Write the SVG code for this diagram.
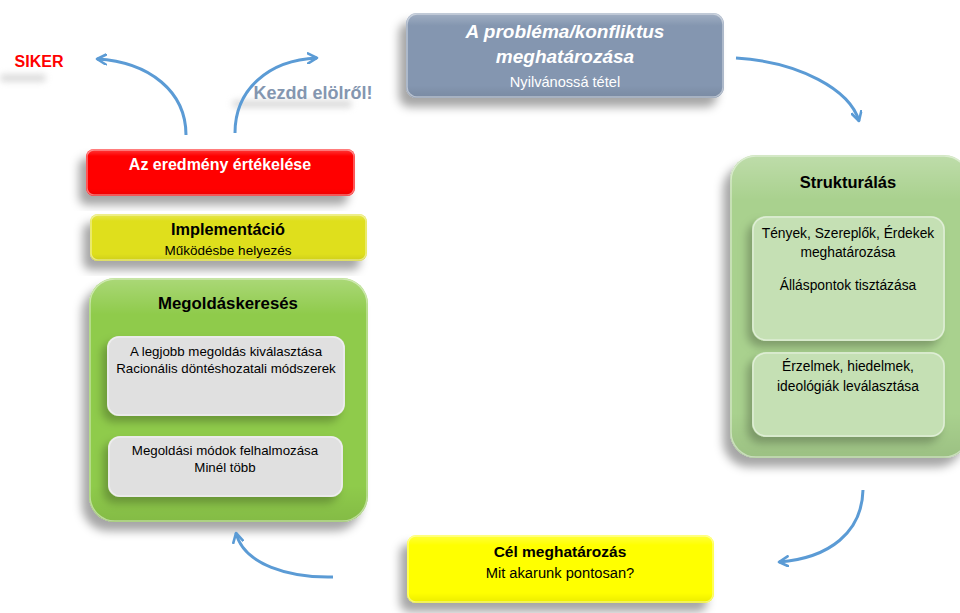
<svg xmlns="http://www.w3.org/2000/svg" width="960" height="613" viewBox="0 0 960 613">
  <defs>
    <filter id="shadow" x="-20%" y="-20%" width="140%" height="150%">
      <feDropShadow dx="-7" dy="9" stdDeviation="5" flood-color="#000" flood-opacity="0.35"/>
    </filter>
    <filter id="innerShadow" x="-20%" y="-20%" width="140%" height="150%">
      <feDropShadow dx="-5" dy="6" stdDeviation="4" flood-color="#000" flood-opacity="0.25"/>
    </filter>
    <filter id="haze" x="-30%" y="-100%" width="160%" height="300%">
      <feGaussianBlur stdDeviation="3"/>
    </filter>
    <linearGradient id="gloss" x1="0" y1="0" x2="0" y2="1">
      <stop offset="0" stop-color="#fff" stop-opacity="0.25"/>
      <stop offset="0.15" stop-color="#fff" stop-opacity="0"/>
      <stop offset="0.85" stop-color="#000" stop-opacity="0"/>
      <stop offset="1" stop-color="#000" stop-opacity="0.08"/>
    </linearGradient>
    <marker id="chevron" viewBox="0 0 12 12" refX="10" refY="6" markerWidth="12" markerHeight="12" markerUnits="userSpaceOnUse" orient="auto">
      <path d="M1,1 L10,6 L1,11" fill="none" stroke="#5b9bd5" stroke-width="2.6" stroke-linecap="round" stroke-linejoin="round"/>
    </marker>
  </defs>
  <style>
    text { font-family: "Liberation Sans", Arial, sans-serif; text-anchor: middle; }
    .title { font-weight: bold; font-size: 16px; fill: #000; }
    .sub { font-size: 14.7px; fill: #000; }
    .struct { font-size: 13.8px; fill: #000; }
    .small { font-size: 13.3px; fill: #000; }
    .box-edge { fill: none; stroke: #fff; stroke-opacity: 0.45; stroke-width: 1.5; }
    .arrow { fill: none; stroke: #5b9bd5; stroke-width: 3; marker-end: url(#chevron); }
  </style>

  <rect width="960" height="613" fill="#fff"/>

  <!-- soft reflections below the free-standing labels -->
  <rect x="0" y="74" width="46" height="8" rx="4" fill="#bbb" opacity="0.5" filter="url(#haze)"/>
  <rect x="232" y="100" width="120" height="8" rx="4" fill="#bbb" opacity="0.5" filter="url(#haze)"/>

  <!-- free-standing labels -->
  <g id="siker">
    <text x="39" y="67" style="font-weight:bold;font-size:16px;fill:#ff0000">SIKER</text>
  </g>
  <g id="kezdd">
    <text x="313" y="99" style="font-weight:bold;font-size:18px;fill:#8496b0">Kezdd elölről!</text>
  </g>

  <!-- problem definition -->
  <g id="problema">
    <rect x="406" y="13" width="318" height="85" rx="11" fill="#8496b0" filter="url(#shadow)"/>
    <rect x="406" y="13" width="318" height="85" rx="11" fill="url(#gloss)"/>
    <rect x="407" y="14" width="316" height="83" rx="10" class="box-edge"/>
    <text x="565" y="38" style="font-weight:bold;font-style:italic;font-size:19px;fill:#fff">A probléma/konfliktus</text>
    <text x="565" y="63" style="font-weight:bold;font-style:italic;font-size:19px;fill:#fff">meghatározása</text>
    <text x="565" y="87" style="font-size:14.6px;fill:#fff">Nyilvánossá tétel</text>
  </g>

  <!-- structuring -->
  <g id="strukturalas">
    <rect x="730" y="155" width="240" height="303" rx="26" fill="#a9d18e" filter="url(#shadow)"/>
    <rect x="730" y="155" width="240" height="303" rx="26" fill="url(#gloss)"/>
    <rect x="731" y="156" width="238" height="301" rx="25" class="box-edge"/>
    <text x="848" y="188" class="title" style="font-size:16.5px">Strukturálás</text>
    <g id="strukturalas-tenyek">
      <rect x="752" y="216" width="193" height="125" rx="14" fill="#c5e0b4" filter="url(#innerShadow)"/>
      <rect x="753" y="217" width="191" height="123" rx="13" class="box-edge"/>
      <text x="848" y="238" class="struct">Tények, Szereplők, Érdekek</text>
      <text x="848" y="257" class="struct">meghatározása</text>
      <text x="848" y="290" class="struct">Álláspontok tisztázása</text>
    </g>
    <g id="strukturalas-erzelmek">
      <rect x="752" y="352" width="193" height="85" rx="14" fill="#c5e0b4" filter="url(#innerShadow)"/>
      <rect x="753" y="353" width="191" height="83" rx="13" class="box-edge"/>
      <text x="848" y="371" class="struct">Érzelmek, hiedelmek,</text>
      <text x="848" y="391" class="struct">ideológiák leválasztása</text>
    </g>
  </g>

  <!-- goal -->
  <g id="cel">
    <rect x="407" y="535" width="307" height="68" rx="9" fill="#ffff00" filter="url(#shadow)"/>
    <rect x="407" y="535" width="307" height="68" rx="9" fill="url(#gloss)"/>
    <rect x="408" y="536" width="305" height="66" rx="8" class="box-edge"/>
    <text x="560" y="557" class="title" style="font-size:15.5px">Cél meghatározás</text>
    <text x="560" y="578" class="sub">Mit akarunk pontosan?</text>
  </g>

  <!-- solution search -->
  <g id="megoldaskereses">
    <rect x="89" y="278" width="279" height="244" rx="26" fill="#8fcb4c" filter="url(#shadow)"/>
    <rect x="89" y="278" width="279" height="244" rx="26" fill="url(#gloss)"/>
    <rect x="90" y="279" width="277" height="242" rx="25" class="box-edge"/>
    <text x="228" y="309" class="title" style="font-size:16.8px">Megoldáskeresés</text>
    <g id="megoldas-kivalasztas">
      <rect x="107" y="336" width="238" height="80" rx="12" fill="#e0e0e0" filter="url(#innerShadow)"/>
      <rect x="108" y="337" width="236" height="78" rx="11" class="box-edge"/>
      <text x="226" y="356" class="small">A legjobb megoldás kiválasztása</text>
      <text x="226" y="373" class="small">Racionális döntéshozatali módszerek</text>
    </g>
    <g id="megoldas-felhalmozas">
      <rect x="108" y="436" width="235" height="61" rx="12" fill="#e0e0e0" filter="url(#innerShadow)"/>
      <rect x="109" y="437" width="233" height="59" rx="11" class="box-edge"/>
      <text x="225" y="455" class="small">Megoldási módok felhalmozása</text>
      <text x="225" y="472" class="small">Minél több</text>
    </g>
  </g>

  <!-- implementation -->
  <g id="implementacio">
    <rect x="90" y="214" width="277" height="47" rx="8" fill="#dfdf1f" filter="url(#shadow)"/>
    <rect x="90" y="214" width="277" height="47" rx="8" fill="url(#gloss)"/>
    <rect x="91" y="215" width="275" height="45" rx="7" class="box-edge"/>
    <text x="228" y="235" class="title" style="font-size:16.3px">Implementáció</text>
    <text x="228" y="255" style="font-size:13.5px;fill:#000">Működésbe helyezés</text>
  </g>

  <!-- evaluation -->
  <g id="ertekeles">
    <rect x="86" y="149" width="269" height="47" rx="8" fill="#ff0000" filter="url(#shadow)"/>
    <rect x="86" y="149" width="269" height="47" rx="8" fill="url(#gloss)"/>
    <rect x="87" y="150" width="267" height="45" rx="7" class="box-edge"/>
    <text x="220" y="170" style="font-weight:bold;font-size:16px;fill:#fff">Az eredmény értékelése</text>
  </g>

  <!-- connectors -->
  <g id="connectors">
    <path class="arrow" d="M186,135 C186,92 150,62 97,59"/>
    <path class="arrow" d="M235,133 C235,90 268,60 317,58"/>
    <path class="arrow" d="M736,58 C800,62 850,90 859,121"/>
    <path class="arrow" d="M863,490 C862,532 830,558 779,562"/>
    <path class="arrow" d="M333,577 C290,578 244,565 236,533"/>
  </g>
</svg>
